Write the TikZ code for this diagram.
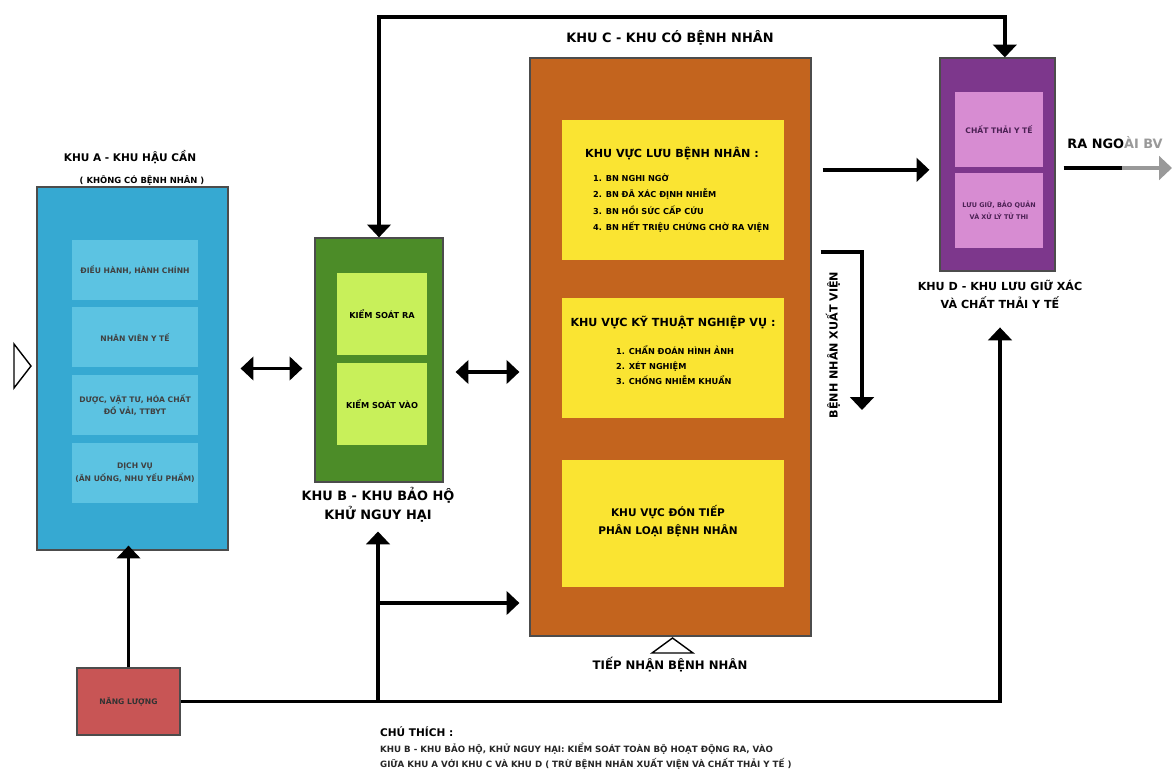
\documentclass[tikz,border=0pt]{standalone}
\usepackage{fontspec}
\setmainfont{DejaVu Sans}
\usepackage{xcolor}
\usetikzlibrary{arrows.meta}
\definecolor{aOut}{HTML}{36A9D2}
\definecolor{aIn}{HTML}{5CC3E2}
\definecolor{bOut}{HTML}{4C8C28}
\definecolor{bIn}{HTML}{C8F05A}
\definecolor{cOut}{HTML}{C3641E}
\definecolor{cIn}{HTML}{FAE432}
\definecolor{dOut}{HTML}{7D378C}
\definecolor{dIn}{HTML}{D78CD2}
\definecolor{nlRed}{HTML}{C85555}

\begin{document}
\begin{tikzpicture}[x=0.3mm,y=-0.3mm,
    sz/.style 2 args={minimum width=#1*0.3mm,minimum height=#2*0.3mm},
    f/.style 2 args={font=\bfseries\fontsize{#1}{#2}\selectfont},
    zone/.style={draw=black!70,line width=1pt,inner sep=0pt},
    part/.style={inner sep=0pt,align=center},
    conn/.style={line width=3pt,-{Triangle[width=20pt,length=11pt]}},
    dbl/.style={line width=3pt,{Triangle[width=20pt,length=11pt]}-{Triangle[width=20pt,length=11pt]}}]
    \useasboundingbox (0,0) rectangle (1172,772);

    \node[zone,fill=aOut,sz={191}{363}] (A) at (132.5,368.5) {};
    \node[part,fill=aIn,sz={126}{60},f={6.5}{9},text=black!75] (A1) at (135,270) {ĐIỀU HÀNH, HÀNH CHÍNH};
    \node[part,fill=aIn,sz={126}{60},f={6.5}{9},text=black!75] (A2) at (135,337) {NHÂN VIÊN Y TẾ};
    \node[part,fill=aIn,sz={126}{60},f={6.5}{11},text=black!75] (A3) at (135,405) {DƯỢC, VẬT TƯ, HÓA CHẤT\\ĐỒ VẢI, TTBYT};
    \node[part,fill=aIn,sz={126}{60},f={6.5}{11},text=black!75] (A4) at (135,473) {DỊCH VỤ\\(ĂN UỐNG, NHU YẾU PHẨM)};
    \node[f={9}{11}] (Alab) at (130,157) {KHU A - KHU HẬU CẦN};
    \node[f={7.2}{8}] (Anote) at (142,180) {( KHÔNG CÓ BỆNH NHÂN )};

    \node[zone,fill=bOut,sz={128}{244}] (B) at (379,360) {};
    \node[part,fill=bIn,sz={90}{82},f={7}{9}] (B1) at (382,314) {KIỂM SOÁT RA};
    \node[part,fill=bIn,sz={90}{82},f={7}{9}] (B2) at (382,404) {KIỂM SOÁT VÀO};
    \node[align=center,f={11}{16}] (Blab) at (378,505) {KHU B - KHU BẢO HỘ\\KHỬ NGUY HẠI};

    \node[zone,fill=cOut,sz={281}{578}] (C) at (670.5,347) {};
    \node[part,fill=cIn,sz={222}{140}] (C1) at (673,190) {};
    \node[part,fill=cIn,sz={222}{120}] (C2) at (673,358) {};
    \node[part,fill=cIn,sz={222}{127}] (C3) at (673,523.5) {};
    \node[f={9.5}{11}] (C1h) at (672,154) {KHU VỰC LƯU BỆNH NHÂN :};
    \node[f={7}{14},align=left,anchor=west] (C1l) at (589,203) {1. BN NGHI NGỜ\\2. BN ĐÃ XÁC ĐỊNH NHIỄM\\3. BN HỒI SỨC CẤP CỨU\\4. BN HẾT TRIỆU CHỨNG CHỜ RA VIỆN};
    \node[f={9.5}{11}] (C2h) at (673,323) {KHU VỰC KỸ THUẬT NGHIỆP VỤ :};
    \node[f={7}{12.8},align=left,anchor=west] (C2l) at (612,365) {1. CHẨN ĐOÁN HÌNH ẢNH\\2. XÉT NGHIỆM\\3. CHỐNG NHIỄM KHUẨN};
    \node[f={9}{15.5},align=center] (C3t) at (668,521) {KHU VỰC ĐÓN TIẾP\\PHÂN LOẠI BỆNH NHÂN};
    \node[f={11}{13}] (Clab) at (670,38) {KHU C - KHU CÓ BỆNH NHÂN};
    \node[f={10}{12}] (Tiep) at (670,665) {TIẾP NHẬN BỆNH NHÂN};

    \node[zone,fill=dOut,sz={115}{213}] (D) at (997.5,164.5) {};
    \node[part,fill=dIn,sz={88}{75},f={6.5}{8},text=dOut!60!black] (D1) at (999,129.5) {CHẤT THẢI Y TẾ};
    \node[part,fill=dIn,sz={88}{75},f={5.5}{10},text=dOut!60!black] (D2) at (999,210.5) {LƯU GIỮ, BẢO QUẢN\\VÀ XỬ LÝ TỬ THI};
    \node[align=center,f={9.5}{15.4}] (Dlab) at (1000,294) {KHU D - KHU LƯU GIỮ XÁC\\VÀ CHẤT THẢI Y TẾ};

    \node[zone,fill=nlRed,sz={103}{67},f={6.5}{8},text=black!80] (NL) at (128.5,701.5) {NĂNG LƯỢNG};

    \node[f={9.5}{11},rotate=90] (XV) at (833,345) {BỆNH NHÂN XUẤT VIỆN};
    \node[f={11}{13}] (RA) at (1115,143) {RA NGO\textcolor{black!40}{ÀI BV}};
    \node[f={9}{10},anchor=west] (Leg) at (376,732) {CHÚ THÍCH :};
    \node[f={7.4}{12.8},align=left,anchor=west,text=black!85] (LegTxt) at (376,756.5) {KHU B - KHU BẢO HỘ, KHỬ NGUY HẠI: KIỂM SOÁT TOÀN BỘ HOẠT ĐỘNG RA, VÀO\\GIỮA KHU A VỚI KHU C VÀ KHU D ( TRỪ BỆNH NHÂN XUẤT VIỆN VÀ CHẤT THẢI Y TẾ )};

    \draw[line width=1.2pt] (14,344) -- (31,366) -- (14,388) -- cycle;
    \draw[line width=1.2pt] (652,653) -- (672.5,638) -- (693,653) -- cycle;

    \coordinate (topY) at (0,17);
    \coordinate (Din) at ([xshift=2.2mm]D.north);
    \coordinate (cd) at ([yshift=-1.6mm]D.west);
    \coordinate (xvBend) at (862,252);
    \coordinate (xvEnd) at (862,410);
    \coordinate (exMid) at (1122,168);
    \coordinate (exEnd) at (1172,168);
    \coordinate (jn) at (378,603);

    \draw[dbl,shorten <=3.6mm,shorten >=3.6mm] (A.east) -- (A.east -| B.west);
    \draw[dbl,shorten <=3.6mm,shorten >=3mm] ([yshift=-3.6mm]B.east) -- ([yshift=-3.6mm]B.east -| C.west);
    \draw[dbl] (B.north) -- (B.north |- topY) -- (Din |- topY) -- (Din);
    \draw[conn,shorten <=3.3mm,shorten >=3mm] (C.east |- cd) -- (cd);
    \draw[conn,shorten <=2.7mm] (C.east |- xvBend) -- (xvBend) -- (xvEnd);
    \draw[line width=3pt,shorten <=2.4mm] (D.east |- exMid) -- (exMid);
    \draw[line width=3pt,black!40,-{Triangle[width=20pt,length=11pt]}] (exMid) -- (exEnd);
    \draw[conn,shorten >=-1.5mm] (NL.north) -- (NL.north |- A.south);
    \draw[conn,shorten >=4.5mm] (NL.east) -| (Dlab.south);
    \draw[conn,shorten >=1.5mm] (NL.east -| Blab.south) -- (Blab.south);
    \draw[conn,shorten >=3mm] (jn) -- (jn -| C.west);
\end{tikzpicture}
\end{document}
